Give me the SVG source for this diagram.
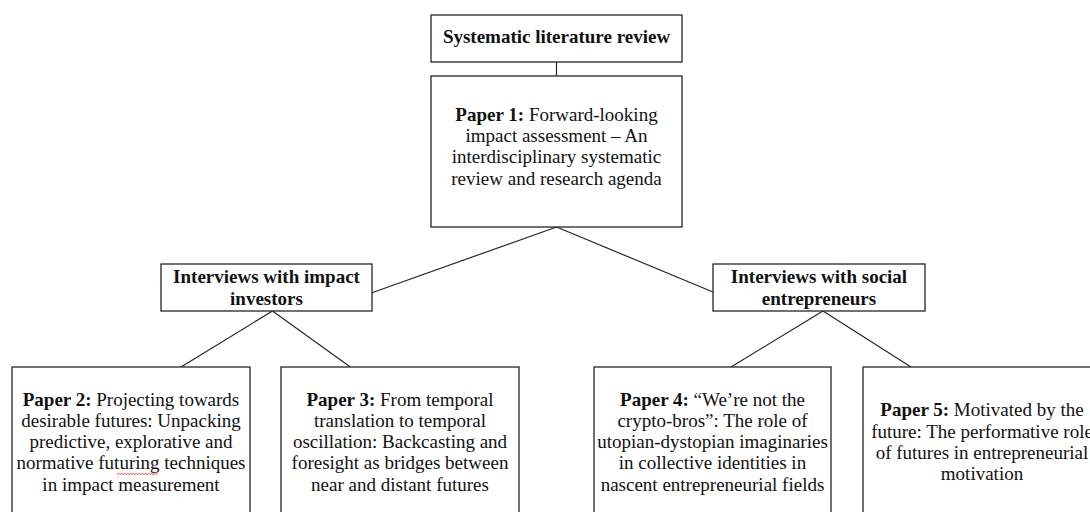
<svg xmlns="http://www.w3.org/2000/svg" width="1090" height="512" viewBox="0 0 1090 512">
  <style>
    .box { fill: #ffffff; stroke: #262626; stroke-width: 1.3; }
    .link { fill: none; stroke: #262626; stroke-width: 1.2; }
    text { font-family: "Liberation Serif", "Times New Roman", serif; font-size: 19px; fill: #111111; text-anchor: middle; }
    .b { font-weight: bold; }
    .spell { fill: none; stroke: #e0302a; stroke-width: 0.9; }
  </style>
  <rect width="1090" height="512" fill="#ffffff"/>

  <!-- connectors -->
  <g id="connectors">
    <line class="link" x1="556.5" y1="62" x2="556.5" y2="76"/>
    <line class="link" x1="556.5" y1="227" x2="372" y2="292.7"/>
    <line class="link" x1="556.5" y1="227" x2="713" y2="292"/>
    <line class="link" x1="272.5" y1="311" x2="181" y2="367"/>
    <line class="link" x1="272.5" y1="311" x2="351" y2="367.5"/>
    <line class="link" x1="823" y1="311" x2="731" y2="367"/>
    <line class="link" x1="823" y1="311" x2="911" y2="367"/>
  </g>

  <g id="slr">
    <rect class="box" x="431" y="15" width="251" height="47"/>
    <text class="b" x="556.5" y="43.3">Systematic literature review</text>
  </g>

  <g id="paper1">
    <rect class="box" x="431" y="76" width="251" height="151"/>
    <text x="556.5" y="120.7"><tspan class="b">Paper 1:</tspan> Forward-looking</text>
    <text x="556.5" y="142">impact assessment – An</text>
    <text x="556.5" y="163.3">interdisciplinary systematic</text>
    <text x="556.5" y="184.6">review and research agenda</text>
  </g>

  <g id="interviews-investors">
    <rect class="box" x="161" y="264" width="211" height="47"/>
    <text class="b" x="266.5" y="283.3">Interviews with impact</text>
    <text class="b" x="266.5" y="304.5">investors</text>
  </g>

  <g id="interviews-entrepreneurs">
    <rect class="box" x="713" y="264" width="212" height="47"/>
    <text class="b" x="819" y="283.3">Interviews with social</text>
    <text class="b" x="819" y="304.5">entrepreneurs</text>
  </g>

  <g id="paper2">
    <rect class="box" x="12" y="367" width="238" height="153"/>
    <text x="131" y="405.5"><tspan class="b">Paper 2:</tspan> Projecting towards</text>
    <text x="131" y="426.8">desirable futures: Unpacking</text>
    <text x="131" y="448.1">predictive, explorative and</text>
    <text x="131" y="469.4">normative futuring techniques</text>
    <text x="131" y="490.7">in impact measurement</text>
    <path class="spell" d="M117 474.5 l1.5 -1.2 l1.5 1.2 l1.5 -1.2 l1.5 1.2 l1.5 -1.2 l1.5 1.2 l1.5 -1.2 l1.5 1.2 l1.5 -1.2 l1.5 1.2 l1.5 -1.2 l1.5 1.2 l1.5 -1.2 l1.5 1.2 l1.5 -1.2 l1.5 1.2 l1.5 -1.2 l1.5 1.2 l1.5 -1.2 l1.5 1.2 l1.5 -1.2 l1.5 1.2 l1.5 -1.2 l1.5 1.2 l1.5 -1.2 l1.5 1.2 l1.5 -1.2"/>
  </g>

  <g id="paper3">
    <rect class="box" x="281" y="367" width="238" height="153"/>
    <text x="400" y="405.5"><tspan class="b">Paper 3:</tspan> From temporal</text>
    <text x="400" y="426.8">translation to temporal</text>
    <text x="400" y="448.1">oscillation: Backcasting and</text>
    <text x="400" y="469.4">foresight as bridges between</text>
    <text x="400" y="490.7">near and distant futures</text>
  </g>

  <g id="paper4">
    <rect class="box" x="594" y="367" width="237" height="153"/>
    <text x="712.5" y="405.5"><tspan class="b">Paper 4:</tspan> “We’re not the</text>
    <text x="712.5" y="426.8">crypto-bros”: The role of</text>
    <text x="712.5" y="448.1">utopian-dystopian imaginaries</text>
    <text x="712.5" y="469.4">in collective identities in</text>
    <text x="712.5" y="490.7">nascent entrepreneurial fields</text>
  </g>

  <g id="paper5">
    <rect class="box" x="863" y="367" width="238" height="153"/>
    <text x="982" y="416.2"><tspan class="b">Paper 5:</tspan> Motivated by the</text>
    <text x="982" y="437.5">future: The performative role</text>
    <text x="982" y="458.8">of futures in entrepreneurial</text>
    <text x="982" y="480.1">motivation</text>
  </g>
</svg>
